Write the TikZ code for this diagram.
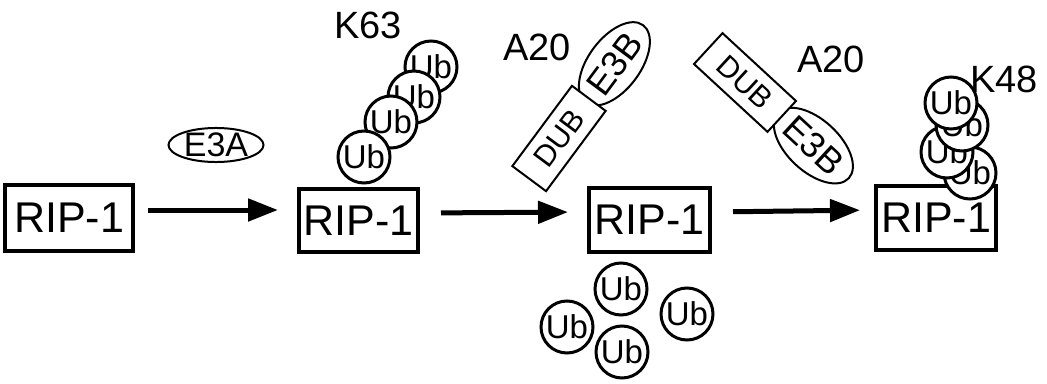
\documentclass[tikz,border=0pt]{standalone}
\usepackage{fontspec}
\setmainfont{Liberation Sans}
\usetikzlibrary{arrows.meta,shapes.geometric}
\newcommand{\fsz}[1]{\fontsize{#1}{#1}\selectfont}
\begin{document}
\begin{tikzpicture}[x=1pt,y=-1pt,
  box/.style={draw,line width=4pt,minimum width=120pt,minimum height=64pt,inner sep=0pt,font=\fsz{43}},
  ub/.style={circle,draw,line width=3pt,fill=white,minimum size=52pt,inner sep=0pt,font=\fsz{33}},
  arr/.style={line width=5pt,-{Triangle[length=30pt,width=22pt]}},
  lbl/.style={inner sep=0pt,font=\fsz{38}},
  dub/.style={draw,fill=white,line width=2pt,minimum width=100pt,minimum height=42pt,inner sep=0pt,font=\fsz{30}},
  e3b/.style={ellipse,draw,fill=white,line width=2pt,minimum width=92pt,minimum height=52pt,inner sep=0pt,font=\fsz{36}},
]
\useasboundingbox (0,0) rectangle (1047,383);

% RIP-1 boxes
\node[box,minimum width=128pt,minimum height=66pt] (b1) at (69,218) {RIP-1};
\node[box,minimum width=119pt,minimum height=63pt] (b2) at (358.5,220.5) {RIP-1};
\node[box,minimum width=121pt] (b3) at (649.5,220) {RIP-1};
\node[box] (b4) at (936,218) {RIP-1};

% reaction arrows
\draw[arr,shorten <=13pt,shorten >=19pt] ([yshift=8pt]b1.east) -- ([yshift=10.5pt]b2.west);
\draw[arr,shorten <=21pt,shorten >=19pt] ([yshift=7.5pt]b2.east) -- ([yshift=8pt]b3.west);
\draw[arr,shorten <=21pt,shorten >=14pt] ([yshift=8pt]b3.east) -- ([yshift=8pt]b4.west);

% E3A ligase
\node[ellipse,draw,line width=2pt,minimum width=95pt,minimum height=34pt,inner sep=0pt,font=\fsz{34}] (e3a) at (216,145) {E3A};

% K63 chain on RIP-1
\node[ub] (k1) at (431,67) {Ub};
\node[ub] (k2) at (414,97) {Ub};
\node[ub] (k3) at (391,122) {Ub};
\node[ub] (k4) at (364,157) {Ub};
\node[lbl] (k63) at (368,25) {K63};

% A20 complex, first orientation
\node[e3b,rotate=53.4] (e1) at (614.4,63.8) {E3B};
\node[dub,rotate=53.4] (d1) at (559,138.5) {DUB};
\node[lbl] (a1) at (537,47) {A20};

% released ubiquitin
\node[ub] (f1) at (567,327) {Ub};
\node[ub] (f2) at (621,289) {Ub};
\node[ub] (f3) at (622,352) {Ub};
\node[ub] (f4) at (687,314) {Ub};

% A20 complex, second orientation
\node[e3b,rotate=-42.7] (e2) at (813.4,145.6) {E3B};
\node[dub,rotate=-42.7] (d2) at (745,82.5) {DUB};
\node[lbl] (a2) at (831,59) {A20};

% K48 chain on RIP-1
\node[ub] (m4) at (970,173) {Ub};
\node[ub] (m3) at (947,152) {Ub};
\node[ub] (m2) at (962,125) {Ub};
\node[ub] (m1) at (951,103) {Ub};
\node[lbl] (k48) at (1004,79) {K48};
\end{tikzpicture}
\end{document}
